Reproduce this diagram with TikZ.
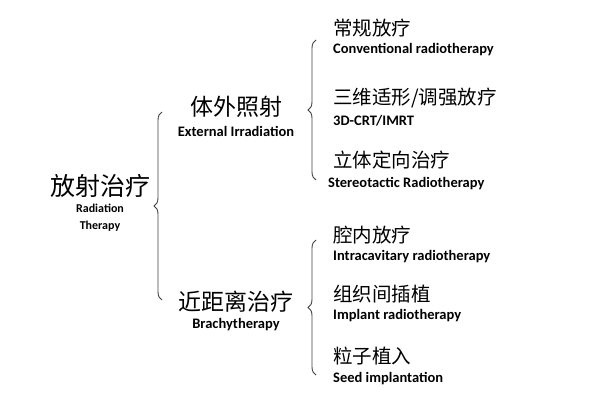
\documentclass[tikz,border=0pt]{standalone}
\usepackage{fontspec}
\setmainfont{Carlito}
\newfontfamily\cjk{Noto Sans CJK SC}
\usetikzlibrary{decorations.pathreplacing}
\begin{document}
\begin{tikzpicture}[x=1pt,y=-1pt,
  zh/.style={font=\cjk\fontsize{19.5}{22}\selectfont,inner sep=0pt},
  zhb/.style={font=\cjk\fontsize{23}{26}\selectfont,inner sep=0pt},
  en/.style={font=\bfseries\fontsize{14.5}{17}\selectfont,inner sep=0pt,align=center},
  brc/.style={decorate,decoration={brace,amplitude=8pt},line width=0.9pt,draw=black!75}]
\useasboundingbox (0,0) rectangle (600,401);
\node[zhb,font=\cjk\fontsize{25}{28}\selectfont] (root) at (100,186) {放射治疗};
\node[en,font=\bfseries\fontsize{12}{17}\selectfont] (rootE) at (100,218) {Radiation\\Therapy};
\node[zhb] (ext) at (236,107) {体外照射};
\node[en] (extE) at (236,131) {External Irradiation};
\node[zhb] (bra) at (236,302) {近距离治疗};
\node[en] (braE) at (236,325) {Brachytherapy};
\node[zh,anchor=west] (a1) at (333,28) {常规放疗};
\node[en,anchor=west] (a1e) at (333,50) {Conventional radiotherapy};
\node[zh,anchor=west] (a2) at (333,98) {三维适形/调强放疗};
\node[en,anchor=west] (a2e) at (333,121) {3D-CRT/IMRT};
\node[zh,anchor=west] (a3) at (333,160) {立体定向治疗};
\node[en,anchor=west] (a3e) at (328,184) {Stereotactic Radiotherapy};
\node[zh,anchor=west] (b1) at (333,235) {腔内放疗};
\node[en,anchor=west] (b1e) at (333,257) {Intracavitary radiotherapy};
\node[zh,anchor=west] (b2) at (333,294) {组织间插植};
\node[en,anchor=west] (b2e) at (333,316) {Implant radiotherapy};
\node[zh,anchor=west] (b3) at (333,356) {粒子植入};
\node[en,anchor=west] (b3e) at (333,379) {Seed implantation};
\coordinate (r1) at (162,300); \coordinate (r2) at (162,112);
\coordinate (e1) at (316,180); \coordinate (e2) at (316,40);
\coordinate (f1) at (316,375); \coordinate (f2) at (316,240);
\draw[brc] (r1) -- (r2);
\draw[brc] (e1) -- (e2);
\draw[brc] (f1) -- (f2);
\end{tikzpicture}
\end{document}
